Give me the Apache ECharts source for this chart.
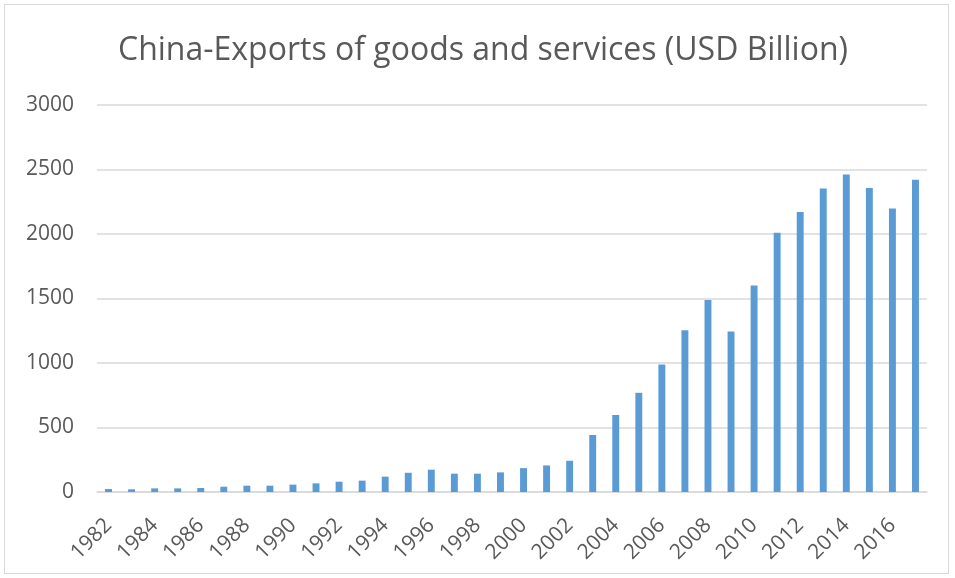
<!DOCTYPE html>
<html>
<head>
<meta charset="utf-8">
<script src="https://cdn.jsdelivr.net/npm/echarts@6/dist/echarts.min.js"></script>
<style>
  html, body { margin: 0; padding: 0; background: #fff; }
  #box {
    position: absolute; left: 4px; top: 4px;
    width: 945px; height: 570px;
    border: 1px solid #d9d9d9; box-sizing: border-box;
  }
</style>
</head>
<body>
<div id="box"></div>
<script>
// years on the x axis
var years = [];
for (var y = 1982; y <= 2017; y++) years.push(String(y));

// exports of goods and services, USD billion
var exportsUsd = [
  23, 21, 28, 28, 31, 41, 49, 49, 57, 67,
  80, 88, 119, 149, 173, 142, 142, 152, 185, 206,
  242, 442, 597, 769, 988, 1253, 1489, 1245, 1600, 2009,
  2171, 2353, 2461, 2356, 2197, 2420
];

var yTicks = [0, 500, 1000, 1500, 2000, 2500, 3000];

var myChart = echarts.init(document.getElementById("box"));
var option = {
  animation: false,
  title: {
    text: "China-Exports of goods and services (USD Billion)",
    left: 108,
    top: 25,
    textStyle: {
      fontFamily: "Open Sans",
      fontWeight: "normal",
      fontSize: 32,
      color: "#595959"
    }
  },
  grid: {
    left: 92,
    right: 21,
    top: 100,
    bottom: 81
  },
  xAxis: {
    type: "category",
    data: years,
    axisLine: { lineStyle: { color: "#d9d9d9", width: 1.5 } },
    axisTick: { show: false },
    axisLabel: {
      interval: 1,
      rotate: 45,
      margin: 30,
      fontFamily: "Open Sans",
      fontSize: 21,
      color: "#595959"
    }
  },
  yAxis: {
    type: "value",
    min: yTicks[0],
    max: yTicks[yTicks.length - 1],
    interval: 500,
    axisLine: { show: false },
    axisTick: { show: false },
    splitLine: { lineStyle: { color: "#d9d9d9", width: 1.5 } },
    axisLabel: {
      margin: 23,
      formatter: function (v) { return String(v); },
      fontFamily: "Open Sans",
      fontSize: 21,
      color: "#595959"
    }
  },
  series: [
    {
      name: "Exports",
      type: "bar",
      data: exportsUsd,
      barWidth: "30%",
      itemStyle: { color: "#5b9bd5" }
    }
  ]
};
myChart.setOption(option);
</script>
</body>
</html>
